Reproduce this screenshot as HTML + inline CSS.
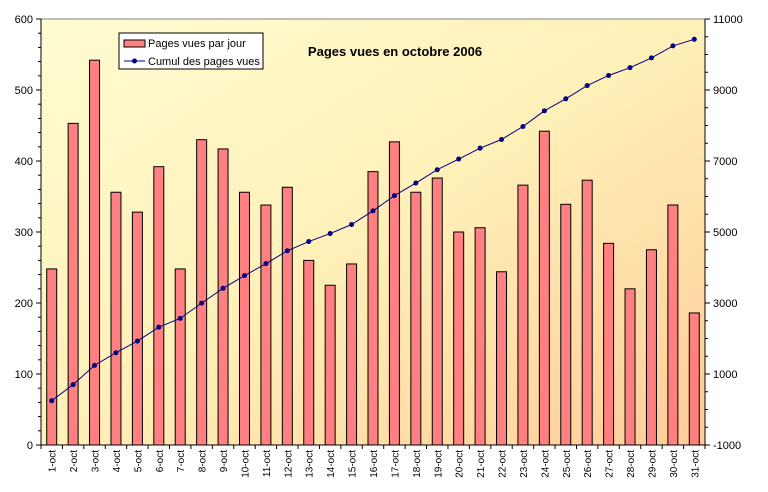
<!DOCTYPE html>
<html><head><meta charset="utf-8"><style>
body{margin:0;background:#fff;}
svg{display:block;font-family:"Liberation Sans",Arial,sans-serif;}
</style></head><body>
<svg id="c" width="768" height="492" xmlns="http://www.w3.org/2000/svg">
<defs><linearGradient id="bg" x1="0" y1="0" x2="1" y2="1">
<stop offset="0" stop-color="#FFFCD2"/><stop offset="0.5" stop-color="#FFF0B8"/><stop offset="1" stop-color="#FFCC98"/></linearGradient></defs>
<rect x="41" y="19" width="664" height="426" fill="url(#bg)" stroke="#808080"/>
<g id="g"></g>
<text x="395" y="56" text-anchor="middle" font-size="13" font-weight="bold">Pages vues en octobre 2006</text>
<g>
<rect x="119" y="33" width="144" height="36" fill="#fff" stroke="#000"/>
<rect x="124" y="40" width="21" height="7" fill="#FF8080" stroke="#000"/>
<text x="148" y="47" font-size="11">Pages vues par jour</text>
<line x1="124" y1="61" x2="145" y2="61" stroke="#000080"/><circle cx="134.5" cy="61" r="2.5" fill="#000080"/>
<text x="148" y="65" font-size="11">Cumul des pages vues</text>
</g>
</svg>
<script>
const categories=[];for(let i=1;i<=31;i++)categories.push(i+'-oct');
const daily=[248,453,542,356,328,392,248,430,417,356,338,363,260,225,255,385,427,356,376,300,306,244,366,442,339,373,284,220,275,338,186];
const cumul=[248,701,1243,1599,1927,2319,2567,2997,3414,3770,4108,4471,4731,4956,5211,5596,6023,6379,6755,7055,7361,7605,7971,8413,8752,9125,9409,9629,9904,10242,10428];
const leftTicks=[0,100,200,300,400,500,600];
const rightTicks=[-1000,1000,3000,5000,7000,9000,11000];
const X0=41,X1=705,Y0=445,Y1=19;
const yL=v=>Y0-(v/600)*(Y0-Y1);
const yR=v=>Y0-((v+1000)/12000)*(Y0-Y1);
const bw=(X1-X0)/categories.length;
const xc=i=>X0+bw*(i+0.5);
const g=document.getElementById('g');const NS='http://www.w3.org/2000/svg';
function mk(t,a){const e=document.createElementNS(NS,t);for(const k in a)e.setAttribute(k,a[k]);g.appendChild(e);return e;}
daily.forEach((v,i)=>{const e=mk('rect',{x:xc(i)-5,y:yL(v),width:10,height:Y0-yL(v),fill:'#FF8080',stroke:'#000','stroke-width':1});

});
const pl=mk('polyline',{points:cumul.map((v,i)=>xc(i)+','+yR(v)).join(' '),fill:'none',stroke:'#000080','stroke-width':1});


cumul.forEach((v,i)=>{const c=mk('circle',{cx:xc(i),cy:yR(v),r:2.5,fill:'#000080'});

});
mk('line',{x1:X0,y1:Y1,x2:X0,y2:Y0,stroke:'#000'});
mk('line',{x1:X1,y1:Y1,x2:X1,y2:Y0,stroke:'#000'});
mk('line',{x1:X0,y1:Y0,x2:X1,y2:Y0,stroke:'#000'});
for(let v=0;v<=600;v+=20){const y=yL(v);mk('line',{x1:X0-(v%100?3:5),y1:y,x2:X0,y2:y,stroke:'#000'});}
for(let v=-1000;v<=11000;v+=500){const y=yR(v);mk('line',{x1:X1,y1:y,x2:X1+((v+1000)%2000?3:5),y2:y,stroke:'#000'});}
leftTicks.forEach(v=>{const t=mk('text',{x:X0-8,y:yL(v)+4,'text-anchor':'end','font-size':11});t.textContent=v;

});
rightTicks.forEach(v=>{const t=mk('text',{x:X1+8,y:yR(v)+4,'font-size':11});t.textContent=v;

});
for(let i=0;i<=categories.length;i++){const x=X0+bw*i;mk('line',{x1:x,y1:Y0,x2:x,y2:Y0+4,stroke:'#000'});}
categories.forEach((c,i)=>{const x=xc(i)+4;const t=mk('text',{x:x,y:450,'text-anchor':'end','font-size':10,transform:'rotate(-90 '+x+' 450)'});t.textContent=c;

});
</script>
</body></html>
